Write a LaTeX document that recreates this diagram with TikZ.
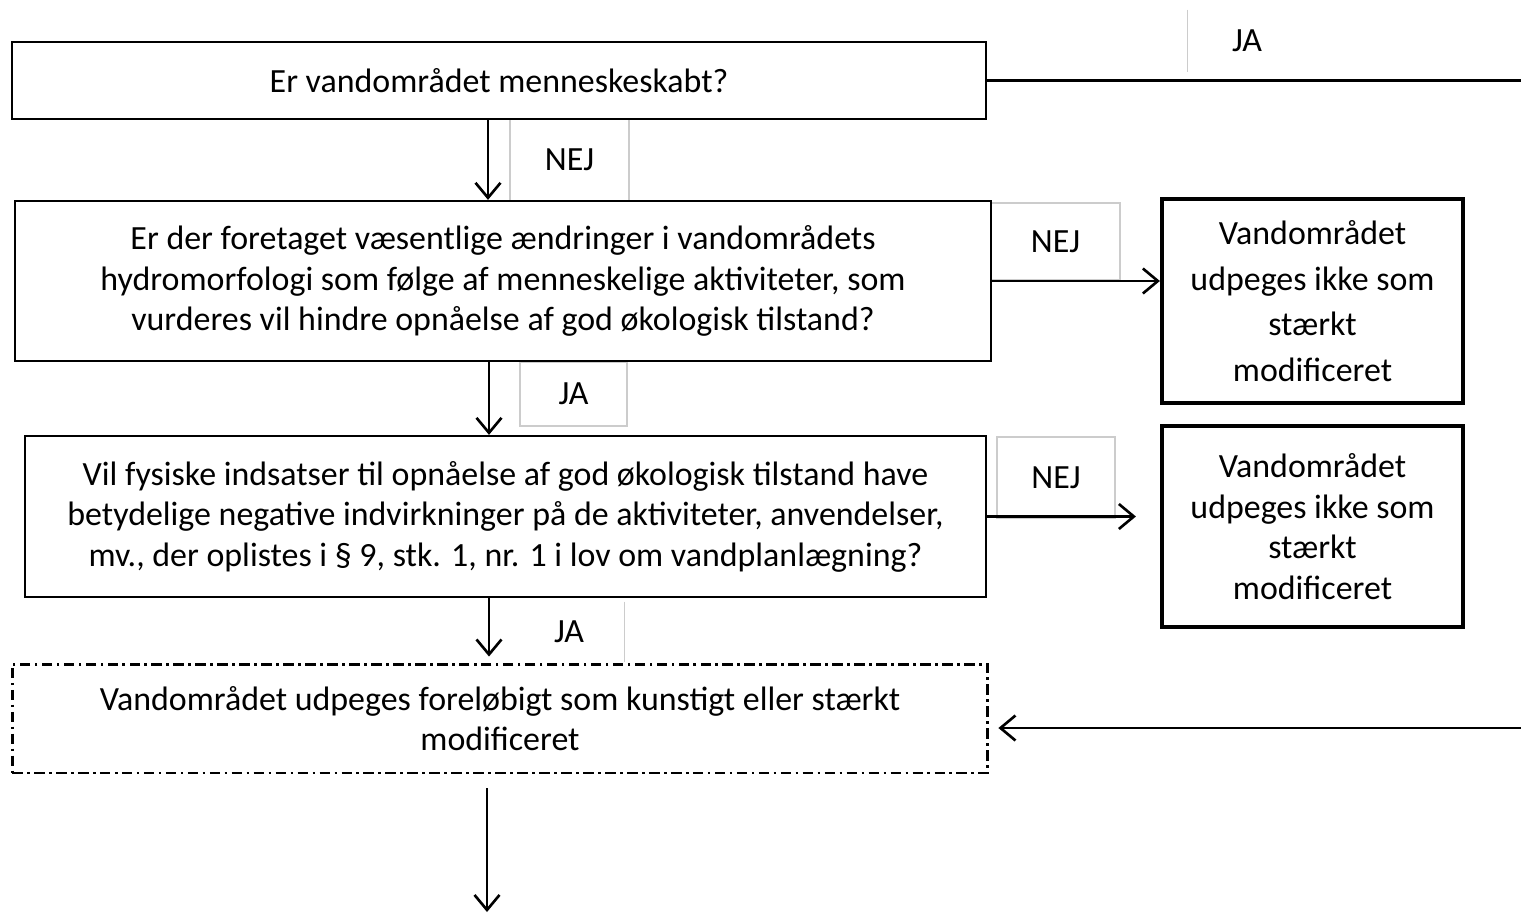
\documentclass[tikz,border=0pt]{standalone}
\usepackage{fontspec}
\setmainfont{Carlito}
\usepackage{tikz}
\usetikzlibrary{arrows.meta, positioning}

\begin{document}
\begin{tikzpicture}[x=0.02cm, y=-0.02cm,
    every node/.style={font=\fontsize{19.3}{23}\selectfont, align=center, inner sep=0pt},
    question/.style={draw, line width=1.3pt},
    resultbox/.style={draw, line width=2.4pt, minimum width=6.02cm},
    tentative/.style={draw, line width=1.7pt, dash pattern=on 6pt off 2.5pt on 1.5pt off 2.5pt},
    answer/.style={draw=gray!40, line width=0.6pt},
    flow/.style={-{Straight Barb[length=3mm, width=5mm, line width=1.5pt]}, line width=1.4pt}]
    \useasboundingbox (0,0) rectangle (1521,916);

    % Svarfelter (tegnes foerst, saa kasserne ligger ovenpaa)
    \node[answer, minimum width=2.38cm, minimum height=1.64cm] (nej1) at (569.5,160) {NEJ};
    \node[answer, minimum width=2.58cm, minimum height=1.54cm] (nej2) at (1055.5,241.5) {NEJ};
    \node[answer, minimum width=2.14cm, minimum height=1.28cm] (ja1) at (573.5,394) {JA};
    \node[answer, minimum width=2.36cm, minimum height=1.62cm] (nej3) at (1056,477.5) {NEJ};
    \node[minimum width=2.2cm, minimum height=1.2cm] (ja2) at (569,632) {JA};
    \draw[answer] (ja2.north east) -- (ja2.south east);
    \node[minimum width=2.36cm, minimum height=1.24cm] (ja0) at (1247,41) {JA};
    \draw[answer] (ja0.north west) -- (ja0.south west);

    % Spoergsmaal
    \node[question, minimum width=19.48cm, minimum height=1.54cm] (q1) at (499,80.5)
        {Er vandområdet menneskeskabt?};
    \node[question, minimum width=19.52cm, minimum height=3.2cm] (q2) at (503,281)
        {Er der foretaget væsentlige ændringer i vandområdets\\
         hydromorfologi som følge af menneskelige aktiviteter, som\\
         vurderes vil hindre opnåelse af god økologisk tilstand?};
    \node[question, minimum width=19.22cm, minimum height=3.22cm] (q3) at (505.5,516.5)
        {Vil fysiske indsatser til opnåelse af god økologisk tilstand have\\
         betydelige negative indvirkninger på de aktiviteter, anvendelser,\\
         mv., der oplistes i § 9, stk. 1, nr. 1 i lov om vandplanlægning?};
    \node[tentative, minimum width=19.52cm, minimum height=2.18cm] (prelim) at (500,718.5)
        {Vandområdet udpeges foreløbigt som kunstigt eller stærkt\\ modificeret};

    % Resultater
    \node[resultbox, minimum height=4.08cm, font=\fontsize{19.3}{26}\selectfont] (notA) at (1312.5,301)
        {Vandområdet\\ udpeges ikke som\\ stærkt\\ modificeret};
    \node[resultbox, minimum height=4.02cm] (notB) at (1312.5,526.5)
        {Vandområdet\\ udpeges ikke som\\ stærkt\\ modificeret};

    % Pile
    \draw[flow] ([xshift=-0.22cm]q1.south) -- ([xshift=-0.22cm]q1.south |- q2.north);
    \draw[flow] ([xshift=-0.28cm]q2.south) -- ([xshift=-0.28cm]q2.south |- q3.north);
    \draw[flow, shorten >=0.12cm] ([xshift=-0.33cm]q3.south) -- ([xshift=-0.33cm]q3.south |- prelim.north);
    \draw[flow] (q2.east) -- (q2.east -| notA.west);
    \draw[flow, shorten >=0.48cm] (q3.east) -- (q3.east -| notB.west);

    \coordinate (edgeJA) at (1521,80.5);
    \draw[line width=1.4pt] (q1.east) -- (edgeJA);
    \coordinate (edgeIn) at (1521,728);
    \draw[flow, shorten >=0.18cm] (edgeIn) -- (edgeIn -| prelim.east);
    \coordinate (exit) at (487,912);
    \draw[flow, shorten <=0.28cm] (prelim.south -| exit) -- (exit);
\end{tikzpicture}
\end{document}
